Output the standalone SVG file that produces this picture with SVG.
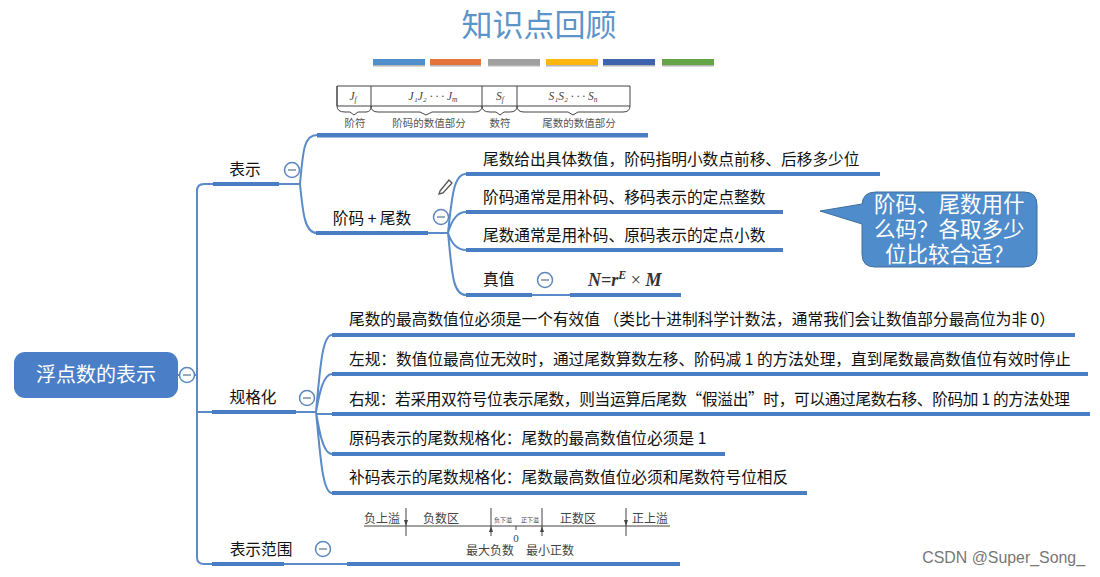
<svg xmlns="http://www.w3.org/2000/svg" width="1100" height="577" viewBox="0 0 1100 577">
<style>
text{font-family:"Noto Sans CJK SC","Liberation Sans",sans-serif;fill:#111}
.t{font-size:15.7px}
.u{fill:#4a7ec4}
.c{fill:none;stroke:#5a8ac8;stroke-width:2}
.m circle{fill:#fff;stroke:#5b87bd;stroke-width:1.5}
.m line{stroke:#7a8fa8;stroke-width:1.5}
.s{font-size:10.5px;fill:#555}
.r{font-size:12px;fill:#444}
.f{font-family:"Liberation Serif",serif;font-style:italic;fill:#444;font-size:11.5px}
.g{stroke:#444;stroke-width:1;fill:none}
.k{fill:#444}
.sh{fill:#b5b5b5}
</style>
<rect width="1100" height="577" fill="#fff"/>
<g id="title">
<text x="539" y="36" font-size="31" text-anchor="middle" style="fill:#5b94c9">知识点回顾</text>
<rect class="sh" x="373" y="62" width="52" height="4.5"/><rect class="sh" x="430" y="62" width="51" height="4.5"/><rect class="sh" x="488" y="62" width="52" height="4.5"/><rect class="sh" x="546" y="62" width="52" height="4.5"/><rect class="sh" x="603" y="62" width="52" height="4.5"/><rect class="sh" x="662" y="62" width="52" height="4.5"/>
<rect x="373" y="59" width="52" height="6" fill="#4f8fcc"/>
<rect x="430" y="59" width="51" height="6" fill="#e5733a"/>
<rect x="488" y="59" width="52" height="6" fill="#a0a0a0"/>
<rect x="546" y="59" width="52" height="6" fill="#ffb70f"/>
<rect x="603" y="59" width="52" height="6" fill="#3e64b0"/>
<rect x="662" y="59" width="52" height="6" fill="#63a544"/>
</g>
<g id="connectors">
<path class="c" d="M178 375H197M213 184H204Q197 184 197 191V557Q197 564 204 564H213M197 412H213"/>
<path class="c" d="M279 184H300M317 135C304 135 303 150 300 184C303 215 305 233 317 233"/>
<path class="c" d="M428 233H448M466 174C454 174 452 195 448 233C452 270 452 295 466 295M466 212C456 212 451 222 448 233C451 242 456 250 466 250"/>
<path class="c" d="M296 412H316M332 335C322 335 320 370 316 412C320 450 322 493 332 493M332 374C323 374 319 395 316 412M332 414H316M332 454C323 454 319 430 316 412"/>
<path class="c" d="M284 564H347M532 295H570"/>
</g>
<g id="root">
<rect x="14" y="352" width="164" height="46" rx="11" fill="#4a7fc7"/>
<text x="96" y="382" font-size="20" text-anchor="middle" style="fill:#fff">浮点数的表示</text>
<g class="m"><circle cx="187" cy="375" r="7.5"/><line x1="183" y1="375" x2="191" y2="375"/></g>
</g>
<g id="n-repr">
<text class="t" x="245" y="175" text-anchor="middle">表示</text>
<rect class="u" x="213" y="182" width="66" height="4"/>
<g class="m"><circle cx="292" cy="170" r="7.5"/><line x1="288" y1="170" x2="296" y2="170"/></g>
</g>
<g id="n-format">
<rect class="u" x="317" y="133" width="331" height="4.5"/>
<path class="g" d="M337 86H630V106H337ZM337 106V86M371 86V106M482 86V106M517 86V106"/>
<path class="g" d="M337 106Q337 112 345 112H350L354 115L358 112H366Q371 112 371 106Q371 112 378 112H420L426 115L432 112H475Q482 112 482 106Q482 112 490 112H496L500 115L504 112H510Q517 112 517 106Q517 112 524 112H568L573 115L578 112H623Q630 112 630 106"/>
<text class="f" x="353" y="100" text-anchor="middle">J<tspan font-size="7.5" dy="2">f</tspan></text>
<text class="f" x="433" y="100" text-anchor="middle">J₁J₂ · · · J<tspan font-size="7.5" dy="2">m</tspan></text>
<text class="f" x="500" y="100" text-anchor="middle">S<tspan font-size="7.5" dy="2">f</tspan></text>
<text class="f" x="573" y="100" text-anchor="middle">S₁S₂ · · · S<tspan font-size="7.5" dy="2">n</tspan></text>
<text class="s" x="355" y="127" text-anchor="middle">阶符</text>
<text class="s" x="429" y="127" text-anchor="middle">阶码的数值部分</text>
<text class="s" x="500" y="127" text-anchor="middle">数符</text>
<text class="s" x="579" y="127" text-anchor="middle">尾数的数值部分</text>
</g>
<g id="n-jw">
<text class="t" x="372" y="224" text-anchor="middle">阶码 + 尾数</text>
<rect class="u" x="316" y="231" width="112" height="4"/>
<g class="m"><circle cx="441" cy="217" r="7.5"/><line x1="437" y1="217" x2="445" y2="217"/></g>
<path d="M440 191L449 180L452 183L443 193L439 194Z" fill="none" stroke="#555" stroke-width="1.3"/>
</g>
<g id="n-a1"><text class="t" x="483" y="165">尾数给出具体数值，阶码指明小数点前移、后移多少位</text><rect class="u" x="466" y="172" width="414" height="4"/></g>
<g id="n-a2"><text class="t" x="483" y="203">阶码通常是用补码、移码表示的定点整数</text><rect class="u" x="466" y="210" width="317" height="4"/></g>
<g id="n-a3"><text class="t" x="483" y="241">尾数通常是用补码、原码表示的定点小数</text><rect class="u" x="466" y="248" width="317" height="4"/></g>
<g id="n-a4">
<text class="t" x="483" y="285">真值</text>
<rect class="u" x="466" y="293" width="66" height="4"/>
<g class="m"><circle cx="545" cy="280" r="7.5"/><line x1="541" y1="280" x2="549" y2="280"/></g>
<text x="588" y="286" font-size="18" font-weight="bold" style='font-family:"Liberation Serif",serif;font-style:italic;fill:#333'>N=r<tspan font-size="12" dy="-7">E</tspan><tspan dy="7" font-style="normal" font-weight="normal"> × </tspan>M</text>
<rect class="u" x="570" y="293" width="111" height="4"/>
</g>
<g id="callout">
<path d="M820 211L862 204Q863 192 876 192H1024Q1037 192 1037 205V254Q1037 267 1024 267H875Q862 267 862 254V224Z" fill="#4f8ccb" stroke="#3f6f9f"/>
<text font-size="21.5" style='fill:#fff;font-family:"Liberation Sans","Noto Sans CJK SC",sans-serif' x="874" y="212">阶码、尾数用什</text>
<text font-size="21.5" style='fill:#fff;font-family:"Liberation Sans","Noto Sans CJK SC",sans-serif' x="874" y="237">么码？各取多少</text>
<text font-size="21.5" style='fill:#fff;font-family:"Liberation Sans","Noto Sans CJK SC",sans-serif' x="885" y="262">位比较合适？</text>
</g>
<g id="n-norm">
<text class="t" x="253" y="403" text-anchor="middle">规格化</text>
<rect class="u" x="212" y="410" width="84" height="4"/>
<g class="m"><circle cx="307" cy="398" r="7.5"/><line x1="303" y1="398" x2="311" y2="398"/></g>
</g>
<g id="n-b1"><text class="t" x="349" y="325">尾数的最高数值位必须是一个有效值 （类比十进制科学计数法，通常我们会让数值部分最高位为非 0）</text><rect class="u" x="332" y="333" width="743" height="4"/></g>
<g id="n-b2"><text class="t" x="349" y="365">左规：数值位最高位无效时，通过尾数算数左移、阶码减 1 的方法处理，直到尾数最高数值位有效时停止</text><rect class="u" x="332" y="372" width="756" height="4"/></g>
<g id="n-b3"><text class="t" x="349" y="405" textLength="721" lengthAdjust="spacing">右规：若采用双符号位表示尾数，则当运算后尾数“假溢出”时，可以通过尾数右移、阶码加 1 的方法处理</text><rect class="u" x="332" y="412" width="758" height="4"/></g>
<g id="n-b4"><text class="t" x="349" y="444">原码表示的尾数规格化：尾数的最高数值位必须是 1</text><rect class="u" x="332" y="452" width="393" height="4"/></g>
<g id="n-b5"><text class="t" x="349" y="483">补码表示的尾数规格化：尾数最高数值位必须和尾数符号位相反</text><rect class="u" x="332" y="491" width="475" height="4"/></g>
<g id="n-range">
<text class="t" x="261" y="555" text-anchor="middle">表示范围</text>
<rect class="u" x="212" y="562" width="72" height="4"/>
<g class="m"><circle cx="323" cy="549" r="7.5"/><line x1="319" y1="549" x2="327" y2="549"/></g>
<rect class="u" x="347" y="562" width="333" height="4"/>
<path class="g" d="M364 526H670M406 508V536M491 508V536M542 508V536M626 508V536M516 526V530"/>
<path class="k" d="M404 520H408L406 526ZM489 532H493L491 526ZM540 532H544L542 526ZM624 520H628L626 526Z"/>
<text class="r" x="382" y="523" text-anchor="middle">负上溢</text>
<text class="r" x="441" y="523" text-anchor="middle">负数区</text>
<text class="r" x="503" y="522" style="font-size:6px" text-anchor="middle">负下溢</text>
<text class="r" x="530" y="522" style="font-size:6px" text-anchor="middle">正下溢</text>
<text class="r" x="578" y="523" text-anchor="middle">正数区</text>
<text class="r" x="650" y="523" text-anchor="middle">正上溢</text>
<text x="516" y="542" font-size="11" text-anchor="middle" style='font-family:"Liberation Serif",serif;fill:#444'>0</text>
<text class="r" x="490" y="555" text-anchor="middle">最大负数</text>
<text class="r" x="550" y="555" text-anchor="middle">最小正数</text>
</g>
<text id="watermark" x="1085" y="563" font-size="15.9" text-anchor="end" style='font-family:"Liberation Sans",sans-serif;fill:#777'>CSDN @Super_Song_</text>
</svg>
